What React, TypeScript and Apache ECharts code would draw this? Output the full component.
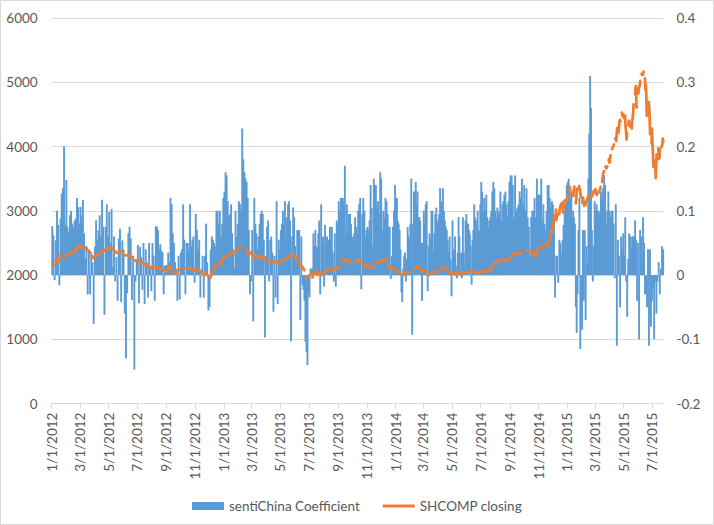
import React, { useEffect, useRef } from "react";
import * as echarts from "echarts";

// ---- sentiChina Coefficient (right axis), two-month blocks, values read left to right ----
const bars2012JanFeb = [0.076, 0.062, -0.008, 0.054, 0.10, 0.078, -0.016, 0.088, 0.127, 0.135, 0.2, 0.078, 0.148, 0.075, 0.067, 0.093, 0.10, 0.08, 0.075, 0.085, 0.088, 0.12, 0.106, 0.08];
const bars2012MarApr = [0.106, 0.091, 0.117, 0.065, 0.026, 0.045, -0.03, 0.04, -0.03, 0.034, 0.02, -0.076, 0.044, 0.085, 0.054, 0.07, 0.093, 0.06, 0.117, 0.075, -0.062, 0.075, 0.11, 0.06];
const bars2012MayJun = [0.098, 0.049, 0.103, 0.013, 0.06, -0.01, 0.028, -0.04, 0.057, 0.072, -0.042, 0.054, 0.04, -0.06, -0.13, -0.028, 0.065, 0.075, 0.057, -0.039, 0.03, -0.147, -0.01, 0.023];
const bars2012JulAug = [0.047, -0.044, 0.044, 0.028, -0.023, 0.05, -0.045, 0.04, 0.02, -0.035, 0.05, 0.01, -0.025, 0.05, 0.03, -0.04, 0.076, 0.075, 0.07, 0.04, 0.048, 0.038, 0.035, -0.03, 0.015, 0.015];
const bars2012SepOct = [0.015, 0.035, 0.02, 0.12, 0.11, 0.065, 0.05, 0.02, 0.01, -0.04, 0.03, -0.038, 0.035, 0.04, 0.11, 0.055, -0.03, 0.05, 0.05, 0.04, 0.11, 0.045, 0.055, 0.06, -0.012];
const bars2012NovDec = [0.095, 0.07, 0.04, 0.055, -0.035, 0.01, 0.03, -0.035, 0.03, 0.08, 0.02, -0.055, -0.05, 0.04, 0.06, 0.055, 0.05, 0.045, 0.1, 0.1, 0.08, 0.1, 0.06, 0.08, 0.12];
const bars2013JanFeb = [0.13, 0.16, 0.155, 0.115, 0.09, 0.095, 0.11, 0.065, 0.04, 0.01, 0.1, 0.06, 0.08, 0.115, 0.11, 0.1, 0.228, 0.18, 0.16, 0.15, 0.145, 0.12, 0.07, -0.03, -0.01];
const bars2013MarApr = [0.07, -0.072, 0.12, 0.08, 0.065, 0.04, 0.06, 0.08, 0.095, 0.1, 0.095, 0.055, -0.097, 0.03, 0.075, 0.085, -0.01, 0.055, 0.06, 0.035, -0.057, 0.03, -0.035, 0.115, -0.045, 0.055, 0.04];
const bars2013MayJun = [0.07, 0.08, 0.1, 0.08, 0.115, 0.055, 0.09, 0.11, 0.115, 0.085, -0.103, 0.06, 0.105, 0.09, 0.045, 0.02, 0.07, 0.07, 0.07, -0.07, 0.06, -0.015, -0.023, -0.04, -0.104, -0.12, -0.14, -0.03];
const bars2013JulAug = [-0.035, 0.01, 0.01, 0.01, 0.065, 0.045, 0.07, 0.045, 0.04, 0.065, 0.085, -0.03, 0.11, 0.05, 0.06, -0.018, 0.078, 0.045, 0.06, 0.055, 0.055, 0.075, 0.055, 0.075, 0.035, -0.01, 0.065, -0.018, 0.085, 0.08];
const bars2013SepOct = [0.115, 0.1, 0.12, 0.12, 0.12, 0.115, 0.17, 0.06, 0.11, 0.07, 0.095, 0.095, 0.08, 0.06, 0.055, 0.065, 0.09, 0.075, 0.065, 0.1, 0.11, 0.12, -0.022, 0.095, 0.12, 0.1, 0.06, 0.07];
const bars2013NovDec = [0.075, 0.07, 0.085, 0.14, 0.105, 0.045, 0.15, 0.14, 0.14, 0.105, 0.115, 0.095, 0.16, 0.15, 0.07, 0.1, 0.09, 0.12, 0.115, 0.095, 0.075, 0.075, -0.006, 0.03, 0.075, 0.1, 0.14];
const bars2014JanFeb = [0.075, 0.12, 0.085, 0.08, 0.07, 0.04, -0.027, -0.042, 0.01, 0.03, 0.035, -0.01, 0.025, 0.075, 0.06, 0.055, 0.08, 0.15, -0.093, 0.08, 0.13, 0.095, 0.145, 0.11, 0.13, 0.09, 0.09, 0.085, 0.05, -0.04, 0.05];
const bars2014MarApr = [0.1, 0.08, 0.11, 0.115, -0.025, 0.045, 0.065, 0.06, 0.1, 0.1, 0.035, 0.065, 0.095, 0.105, 0.08, 0.085, 0.095, 0.135, 0.09, 0.115, 0.135, 0.1, 0.085, 0.075, 0.07, 0.055, 0.035, 0.06, 0.025, -0.033];
const bars2014MayJun = [0.085, 0.04, 0.04, 0.06, 0.015, -0.005, 0.035, 0.09, 0.06, 0.0, 0.035, -0.005, 0.09, 0.035, 0.015, 0.085, 0.095, 0.08, 0.08, 0.07, 0.065, 0.045, -0.015, 0.055, 0.07, 0.11, 0.09, 0.085, 0.055, 0.1, 0.07, 0.065, 0.11];
const bars2014JulAug = [0.145, 0.13, 0.1, 0.12, 0.1, 0.125, 0.09, 0.075, 0.085, 0.09, 0.1, 0.13, 0.145, 0.135, 0.1, 0.09, 0.105, 0.1, 0.095, 0.13, 0.085, 0.11, 0.115, 0.125, 0.13, 0.11, 0.09, 0.115, 0.145];
const bars2014SepOct = [0.155, 0.155, 0.14, 0.09, 0.155, 0.1, 0.105, 0.11, 0.13, 0.12, 0.15, 0.11, 0.14, 0.1, 0.135, 0.09, 0.075, 0.03, 0.09, 0.1, 0.1, 0.12, 0.09, 0.15, 0.125];
const bars2014NovDec = [0.125, 0.125, 0.15, 0.085, 0.11, 0.08, 0.07, 0.1, 0.14, 0.14, 0.12, 0.105, 0.115, 0.11, 0.085, -0.035, 0.03, 0.03, -0.012, 0.055, 0.05, 0.034, 0.055, 0.078, 0.1, 0.11, 0.14];
const bars2015JanFeb = [0.145, 0.15, 0.13, 0.12, 0.13, 0.09, 0.1, 0.09, 0.08, -0.05, -0.09, -0.03, 0.07, 0.12, -0.115, -0.06, -0.085, 0.07, -0.04, 0.07, -0.07, 0.045, 0.02, 0.15, 0.22, 0.31, 0.26, 0.07, -0.01, 0.045, 0.115];
const bars2015MarApr = [0.1, 0.11, 0.1, 0.1, 0.095, 0.13, 0.12, 0.135, 0.155, 0.14, 0.08, 0.1, 0.13, 0.1, 0.09, 0.1, 0.1, 0.08, -0.005, 0.11, -0.11, 0.055, 0.03, -0.05, 0.06, 0.04, 0.065];
const bars2015MayJun = [0.03, 0.09, -0.01, -0.065, 0.025, 0.065, 0.06, 0.04, 0.06, 0.06, 0.06, 0.085, 0.055, -0.04, 0.05, -0.1, 0.07, 0.06, 0.02, 0.09, 0.05, -0.03, -0.03, -0.05, 0.04, -0.11, 0.04, -0.08, -0.04];
const bars2015Jul = [-0.02, -0.1, -0.01, -0.06, -0.01, 0.02, -0.03, 0.01, 0.045, 0.04];

// ---- SHCOMP closing (left axis): one entry per trading week (Mon..Fri), null = market closed ----
type Week = number[] | null;
const shcomp2012: Week[] = [
  [2170, 2160], [2225, 2245], [2205, 2320], null, [2285, 2330], [2330, 2350], [2350, 2357], [2365, 2440],
  [2445, 2460], [2430, 2420], [2425, 2405], [2375, 2350], [2300, 2262], [2300, 2305], [2310, 2360], [2355, 2370],
  [2390, 2400], [2400, 2440], [2430, 2395], [2380, 2345], [2350, 2350], [2370, 2370], [2310, 2305], [2310, 2305],
  [2290, 2260], [2225, 2225], [2230, 2225], [2170, 2185], [2165, 2170], [2135, 2130], [2110, 2130], [2130, 2125],
  [2110, 2100], [2100, 2090], [2075, 2050], [2050, 2130], [2130, 2100], [2050, 2025], [2030, 2090], null,
  [2100, 2105], [2100, 2110], [2110, 2070], [2065, 2105], [2100, 2070], [2050, 2015], [2010, 2025], [2000, 1980],
  [1960, 2030], [2080, 2150], [2160, 2170], [2165, 2230],
];
const shcomp2013: Week[] = [
  [2270, 2275], [2300, 2310], [2330, 2330], [2350, 2340], [2390, 2420], [2430, 2435], null, [2400, 2320],
  [2330, 2360], [2270, 2320], [2300, 2280], [2270, 2300], [2270, 2240], [2230, 2225], [2210, 2205], [2200, 2220],
  [2210, 2180], [2200, 2210], [2235, 2245], [2250, 2275], [2300, 2295], [2320, 2300], [2280, 2210], [2160, 2160],
  [2130, 2075], [1960, 1980], [1995, 2010], [1960, 2040], [2060, 2000], [2030, 2010], [2000, 2030], [2050, 2080],
  [2100, 2090], [2085, 2100], [2100, 2100], [2120, 2140], [2210, 2235], [2250, 2215], [2220, 2200], null,
  [2200, 2230], [2240, 2195], [2180, 2165], [2130, 2150], [2140, 2110], [2110, 2140], [2200, 2200], [2200, 2220],
  [2220, 2240], [2240, 2240], [2160, 2115], [2100, 2100],
];
const shcomp2014: Week[] = [
  [2100, 2085], [2050, 2025], [2015, 2005], [2010, 2055], [2040, 2035], null, [2085, 2115], [2140, 2115],
  [2075, 2055], [2075, 2060], [2000, 2005], [2025, 2045], [2065, 2045], [2035, 2060], [2100, 2130], [2100, 2100],
  [2070, 2035], [2020, 2025], [2025, 2010], [2050, 2025], [2005, 2035], [2040, 2040], [2040, 2030], [2055, 2070],
  [2060, 2025], [2030, 2035], [2050, 2060], [2060, 2045], [2060, 2060], [2075, 2125], [2180, 2185], [2220, 2195],
  [2225, 2225], [2245, 2240], [2225, 2220], [2250, 2310], [2330, 2340], [2350, 2340], [2330, 2350], null,
  [2385, 2375], [2370, 2340], [2355, 2305], [2290, 2337, 2373, 2391, 2420], [2430, 2420], [2473, 2480],
  [2474, 2456, 2451, 2452, 2487], [2532, 2567, 2580, 2630, 2683], [2680, 2763, 2779, 2899, 2937],
  [3020, 2856, 2940, 2925, 2938], [2953, 3021, 3061, 3057, 3108], [3128, 2974, 3033, 3072, 3157],
];
const shcomp2015: Week[] = [
  [3168, 3166, 3235], [3351, 3373, 3294, 3294, 3285], [3229, 3223, 3235, 3336, 3376], [3116, 3173, 3323, 3343, 3351],
  [3383, 3353, 3305, 3262, 3210], [3128, 3204, 3174, 3136, 3076], [3095, 3141, 3157, 3173, 3203], [3228, 3246],
  [3228, 3298, 3310], [3336, 3263, 3279, 3248, 3241], [3302, 3286, 3290, 3349, 3372], [3449, 3502, 3578, 3582, 3617],
  [3688, 3691, 3661, 3682, 3691], [3787, 3811, 3748, 3825, 3863], [3961, 3957, 3994, 4034], [4121, 4135, 4084, 4194, 4287],
  [4217, 4293, 4398, 4414, 4394], [4527, 4476, 4501, 4442], [4480, 4298, 4229, 4112, 4205], [4333, 4401, 4375, 4378, 4308],
  [4283, 4417, 4446, 4529, 4657], [4813, 4910, 4941, 4620, 4611], [4828, 4910, 4910, 4947, 5023], [5131, 5113, 5106, 5121, 5166],
  [5062, 4887, 4967, 4785, 4478], [4576, 4690, 4527, 4192], [4053, 4277, 4053, 3912, 3687], [3776, 3728, 3507, 3710, 3877],
  [3970, 3924, 3805, 3823, 3957], [3992, 4017, 4027, 4124, 4070],
];

const leftTicks = [0, 1000, 2000, 3000, 4000, 5000, 6000];
const rightTicks = [-0.2, -0.1, 0, 0.1, 0.2, 0.3, 0.4];
const SERIES_BAR = "sentiChina Coefficient";
const SERIES_LINE = "SHCOMP closing";

// ---- date helpers ----
const DAY = 86400000;
const BASE = Date.UTC(2012, 0, 1);
const dayOf = (y: number, m: number, d: number) => Math.round((Date.UTC(y, m - 1, d) - BASE) / DAY);
const fmtDay = (v: number) => {
  const dt = new Date(BASE + Math.round(v) * DAY);
  return `${dt.getUTCMonth() + 1}/${dt.getUTCDate()}/${dt.getUTCFullYear()}`;
};
const tickDays: number[] = [];
for (let y = 2012; y <= 2015; y++) {
  for (let m = 1; m <= 11; m += 2) {
    if (y < 2015 || m <= 7) tickDays.push(dayOf(y, m, 1));
  }
}
const FIRST_MONDAY = dayOf(2012, 1, 2);
const DATA_END = dayOf(2015, 7, 25);

const barBlocks = [
  bars2012JanFeb, bars2012MarApr, bars2012MayJun, bars2012JulAug, bars2012SepOct, bars2012NovDec,
  bars2013JanFeb, bars2013MarApr, bars2013MayJun, bars2013JulAug, bars2013SepOct, bars2013NovDec,
  bars2014JanFeb, bars2014MarApr, bars2014MayJun, bars2014JulAug, bars2014SepOct, bars2014NovDec,
  bars2015JanFeb, bars2015MarApr, bars2015MayJun, bars2015Jul,
];

function buildBars() {
  const out: [number, number][] = [];
  barBlocks.forEach((blk, i) => {
    const s = tickDays[i];
    const e = i + 1 < tickDays.length ? tickDays[i + 1] : DATA_END;
    const step = (e - s) / blk.length;
    blk.forEach((v, j) => out.push([s + (j + 0.5) * step, v]));
  });
  return out;
}

function buildLine() {
  const weeks = [...shcomp2012, ...shcomp2013, ...shcomp2014, ...shcomp2015];
  const out: [number, number | null][] = [];
  weeks.forEach((w, k) => {
    const mon = FIRST_MONDAY + 7 * k;
    if (!w) return;
    const n = w.length;
    w.forEach((v, j) => out.push([mon + (n > 1 ? (j * 4) / (n - 1) : 2), v]));
    out.push([mon + 5, null]);
  });
  return out;
}

const FONT = "Lato, 'Liberation Sans', sans-serif";
const TXT = "#595959";
const GRID = "#d9d9d9";
const LINE_ICON = "path://M0,0M32,8M0,2.6H32V5.4H0Z";

export default function App() {
  const ref = useRef<HTMLDivElement>(null);
  useEffect(() => {
    document.body.style.margin = "0";
    if (!ref.current) return;
    const chart = echarts.init(ref.current, undefined, { renderer: "svg" });
    chart.setOption({
      animation: false,
      backgroundColor: "#ffffff",
      textStyle: { fontFamily: FONT },
      graphic: [
        {
          type: "rect",
          shape: { x: 0.5, y: 0.5, width: 713, height: 524 },
          style: { fill: "none", stroke: GRID, lineWidth: 1 },
          silent: true,
          z: 0,
        },
      ],
      grid: { left: 51.7, right: 50.5, top: 18, bottom: 121.4, containLabel: false },
      legend: {
        data: [
          { name: SERIES_BAR, icon: "rect" },
          { name: SERIES_LINE, icon: LINE_ICON, itemStyle: { color: "#ed7d31" } },
        ],
        left: "center",
        top: 494,
        itemWidth: 32,
        itemHeight: 8,
        itemGap: 23,
        textStyle: { color: TXT, fontSize: 13.5, fontFamily: FONT },
      },
      xAxis: {
        type: "value",
        min: 0,
        max: DATA_END - 0.5,
        splitLine: { show: false },
        axisLine: { show: true, onZero: false, lineStyle: { color: GRID, width: 1 } },
        axisTick: { show: true, customValues: tickDays, length: 5, lineStyle: { color: GRID } },
        axisLabel: {
          customValues: tickDays,
          rotate: 90,
          margin: 9,
          color: TXT,
          fontSize: 13.5,
          fontFamily: FONT,
          formatter: (v: number) => fmtDay(v),
        },
      },
      yAxis: [
        {
          type: "value",
          min: leftTicks[0],
          max: leftTicks[leftTicks.length - 1],
          interval: 1000,
          axisLine: { show: false },
          axisTick: { show: false },
          splitLine: { show: true, lineStyle: { color: GRID, width: 1 } },
          axisLabel: {
            color: TXT,
            fontSize: 13.5,
            fontFamily: FONT,
            margin: 14,
            formatter: (v: number) => String(v),
          },
        },
        {
          type: "value",
          position: "right",
          min: rightTicks[0],
          max: rightTicks[rightTicks.length - 1],
          interval: 0.1,
          axisLine: { show: false },
          axisTick: { show: false },
          splitLine: { show: false },
          axisLabel: {
            color: TXT,
            fontSize: 13.5,
            fontFamily: FONT,
            margin: 13,
            formatter: (v: number) => String(Math.round(v * 10) / 10),
          },
        },
      ],
      series: [
        {
          name: SERIES_BAR,
          type: "bar",
          yAxisIndex: 1,
          barWidth: 1.9,
          itemStyle: { color: "#5b9bd5" },
          data: buildBars(),
          z: 2,
        },
        {
          name: SERIES_LINE,
          type: "line",
          yAxisIndex: 0,
          symbol: "none",
          showSymbol: false,
          connectNulls: false,
          lineStyle: { color: "#ed7d31", width: 2.75, cap: "round", join: "round" },
          itemStyle: { color: "#ed7d31" },
          data: buildLine(),
          z: 3,
        },
      ],
    });
    return () => chart.dispose();
  }, []);
  return <div ref={ref} style={{ width: 714, height: 525 }} />;
}
